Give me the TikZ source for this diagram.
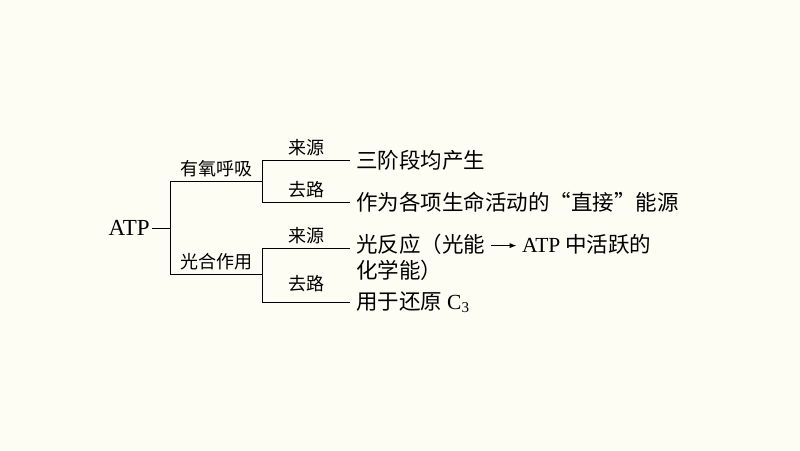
\documentclass[tikz,border=0pt]{standalone}
\usepackage{fontspec}
\setmainfont{Liberation Serif}
\newfontfamily\cjk{Noto Sans CJK SC}
\usetikzlibrary{positioning, arrows.meta}
\definecolor{paper}{HTML}{FDFDF3}

\begin{document}
\begin{tikzpicture}[x=1pt, y=-1pt, inner sep=0pt, line width=0.8pt,
    branch/.style={font=\cjk\fontsize{18}{18}\selectfont, above=4pt},
    leaf/.style={font=\cjk\fontsize{21.5}{26}\selectfont, anchor=west, align=left}]

        \useasboundingbox[fill=paper] (0,0) rectangle (800,450);

        % Nodes
        \node[anchor=east, font=\fontsize{23}{23}\selectfont] (atp) at (150,228) {ATP};
        \coordinate (root) at (170,228);
        \coordinate (aer) at (262,181);
        \coordinate (pho) at (262,274);
        \coordinate (aersrc) at (350,160);
        \coordinate (aeruse) at (350,202);
        \coordinate (phosrc) at (350,248);
        \coordinate (phouse) at (350,302);

        \node[leaf] (t1) at (356,160) {三阶段均产生};
        \node[leaf] (t2) at (356,202) {作为各项生命活动的“直接”能源};
        \node[leaf, anchor=north west] (t3) at (356,234) {光反应（光能 \tikz[baseline=-0.6ex]\draw[-{Latex[length=7pt]}, line width=1.3pt] (0,0) -- (26,0); {\rmfamily ATP} 中活跃的\\化学能）};
        \node[leaf] (t4) at (356,302) {用于还原 {\rmfamily C\textsubscript{3}}};

        % Lines
        \draw (atp.east) ++(2,0) -- (root);
        \draw (root |- aer) -- node[branch] (l1) {有氧呼吸} (aer);
        \draw (root |- pho) -- node[branch] (l2) {光合作用} (pho);
        \draw (root |- aer) -- (root |- pho);
        \draw (aer |- aersrc) -- (aer |- aeruse);
        \draw (pho |- phosrc) -- (pho |- phouse);
        \draw (aer |- aersrc) -- node[branch] (l3) {来源} (aersrc);
        \draw (aer |- aeruse) -- node[branch] (l4) {去路} (aeruse);
        \draw (pho |- phosrc) -- node[branch] (l5) {来源} (phosrc);
        \draw (pho |- phouse) -- node[branch, above=10pt] (l6) {去路} (phouse);

\end{tikzpicture}
\end{document}
